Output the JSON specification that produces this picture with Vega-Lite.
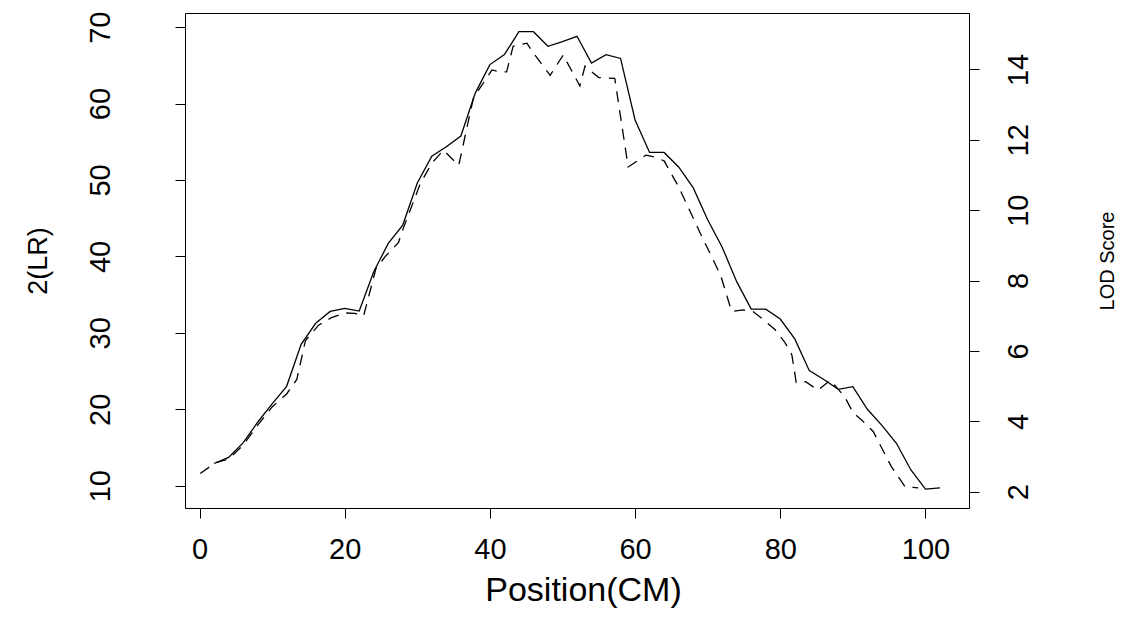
{
  "$schema": "https://vega.github.io/schema/vega-lite/v6.json",
  "width": 784,
  "height": 495,
  "autosize": "none",
  "padding": {"left": 185, "top": 13, "right": 177, "bottom": 121},
  "background": "white",
  "config": {
    "view": {"stroke": "black", "strokeWidth": 1},
    "axis": {
      "grid": false,
      "domain": false,
      "ticks": true,
      "tickColor": "black",
      "tickSize": 10,
      "tickWidth": 1,
      "labelColor": "black",
      "labelFont": "Liberation Sans",
      "labelFontSize": 29,
      "titleFont": "Liberation Sans",
      "titleFontWeight": "normal",
      "titleColor": "black",
      "labelOverlap": false,
      "labelFlush": false
    }
  },
  "datasets": {
    "solid": [
      {"pos": 2, "lr": 12.9}, {"pos": 4, "lr": 13.7}, {"pos": 6, "lr": 15.6}, {"pos": 8, "lr": 18.3},
      {"pos": 10, "lr": 20.7}, {"pos": 12, "lr": 23.0}, {"pos": 14, "lr": 28.5}, {"pos": 16, "lr": 31.25},
      {"pos": 18, "lr": 32.8}, {"pos": 20, "lr": 33.2}, {"pos": 22, "lr": 32.85}, {"pos": 24, "lr": 38.0},
      {"pos": 26, "lr": 41.7}, {"pos": 28, "lr": 44.1}, {"pos": 30, "lr": 49.6}, {"pos": 32, "lr": 53.1},
      {"pos": 34, "lr": 54.35}, {"pos": 36, "lr": 55.75}, {"pos": 38, "lr": 61.4}, {"pos": 40, "lr": 65.1},
      {"pos": 42, "lr": 66.4}, {"pos": 44, "lr": 69.4}, {"pos": 46, "lr": 69.4}, {"pos": 48, "lr": 67.5},
      {"pos": 50, "lr": 68.1}, {"pos": 52, "lr": 68.8}, {"pos": 54, "lr": 65.3}, {"pos": 56, "lr": 66.4},
      {"pos": 58, "lr": 65.9}, {"pos": 60, "lr": 57.85}, {"pos": 62, "lr": 53.6}, {"pos": 64, "lr": 53.6},
      {"pos": 66, "lr": 51.7}, {"pos": 68, "lr": 49.0}, {"pos": 70, "lr": 44.8}, {"pos": 72, "lr": 41.2},
      {"pos": 74, "lr": 36.7}, {"pos": 76, "lr": 33.1}, {"pos": 78, "lr": 33.1}, {"pos": 80, "lr": 31.8},
      {"pos": 82, "lr": 29.2}, {"pos": 84, "lr": 25.05}, {"pos": 86, "lr": 23.9}, {"pos": 88, "lr": 22.6},
      {"pos": 90, "lr": 22.95}, {"pos": 92, "lr": 20.0}, {"pos": 94, "lr": 17.9}, {"pos": 96, "lr": 15.55},
      {"pos": 98, "lr": 12.05}, {"pos": 100, "lr": 9.55}, {"pos": 102, "lr": 9.7}
    ],
    "dashed": [
      {"pos": 0.1, "lr": 11.6}, {"pos": 2.2, "lr": 13.0}, {"pos": 4.0, "lr": 13.5}, {"pos": 6.0, "lr": 15.3},
      {"pos": 8.0, "lr": 17.9}, {"pos": 10.0, "lr": 20.3}, {"pos": 12.0, "lr": 22.0}, {"pos": 13.4, "lr": 23.9},
      {"pos": 14.6, "lr": 29.0}, {"pos": 16.4, "lr": 31.0}, {"pos": 18.2, "lr": 32.0}, {"pos": 20.1, "lr": 32.6},
      {"pos": 21.4, "lr": 32.55}, {"pos": 22.6, "lr": 32.2}, {"pos": 24.3, "lr": 38.4}, {"pos": 25.6, "lr": 40.0},
      {"pos": 27.4, "lr": 41.8}, {"pos": 28.0, "lr": 43.5}, {"pos": 30.4, "lr": 49.5}, {"pos": 32.0, "lr": 52.2},
      {"pos": 33.6, "lr": 53.9}, {"pos": 35.7, "lr": 51.9}, {"pos": 37.7, "lr": 60.6}, {"pos": 38.6, "lr": 62.0},
      {"pos": 40.3, "lr": 64.4}, {"pos": 41.4, "lr": 64.15}, {"pos": 42.3, "lr": 64.15}, {"pos": 43.2, "lr": 67.5},
      {"pos": 45.1, "lr": 67.9}, {"pos": 46.0, "lr": 66.6}, {"pos": 48.3, "lr": 63.7}, {"pos": 50.1, "lr": 66.35},
      {"pos": 52.4, "lr": 62.3}, {"pos": 53.1, "lr": 64.9}, {"pos": 55.0, "lr": 63.4}, {"pos": 57.2, "lr": 63.3},
      {"pos": 59.05, "lr": 51.7}, {"pos": 61.5, "lr": 53.25}, {"pos": 62.7, "lr": 53.0}, {"pos": 64.0, "lr": 52.5},
      {"pos": 66.0, "lr": 49.1}, {"pos": 68.9, "lr": 43.2}, {"pos": 71.8, "lr": 37.5}, {"pos": 73.3, "lr": 32.8},
      {"pos": 74.9, "lr": 33.0}, {"pos": 76.3, "lr": 32.75}, {"pos": 77.6, "lr": 31.8}, {"pos": 79.3, "lr": 30.4},
      {"pos": 80.6, "lr": 28.8}, {"pos": 81.6, "lr": 27.1}, {"pos": 82.2, "lr": 23.5}, {"pos": 83.5, "lr": 23.6},
      {"pos": 85.2, "lr": 22.5}, {"pos": 86.9, "lr": 23.8}, {"pos": 88.9, "lr": 21.6}, {"pos": 90.0, "lr": 19.6},
      {"pos": 91.2, "lr": 18.6}, {"pos": 92.8, "lr": 17.1}, {"pos": 95.3, "lr": 12.5}, {"pos": 97.2, "lr": 9.85},
      {"pos": 99.0, "lr": 9.7}
    ]
  },
  "resolve": {"axis": {"y": "independent"}},
  "layer": [
    {
      "data": {"name": "solid"},
      "mark": {"type": "line", "color": "black", "strokeWidth": 1.3},
      "encoding": {
        "x": {
          "field": "pos", "type": "quantitative",
          "scale": {"domain": [-2, 106], "nice": false, "zero": false},
          "axis": {
            "values": [0, 20, 40, 60, 80, 100],
            "labelPadding": 17,
            "labelBaseline": "top",
            "title": "Position(CM)",
            "titleFontSize": 34,
            "titleX": 398,
            "titleY": 82,
            "titleBaseline": "middle",
            "titleAlign": "center"
          }
        },
        "y": {
          "field": "lr", "type": "quantitative",
          "scale": {"domain": [7.08, 71.85], "nice": false, "zero": false},
          "axis": {
            "orient": "left",
            "values": [10, 20, 30, 40, 50, 60, 70],
            "labelAngle": 270,
            "labelAlign": "center",
            "labelBaseline": "bottom",
            "labelPadding": 60,
            "title": "2(LR)",
            "titleFontSize": 27,
            "titleAngle": 270,
            "titleX": -147,
            "titleY": 247.5,
            "titleBaseline": "middle",
            "titleAlign": "center"
          }
        }
      }
    },
    {
      "data": {"name": "dashed"},
      "mark": {"type": "line", "color": "black", "strokeWidth": 1.3, "strokeDash": [11, 8]},
      "encoding": {
        "x": {"field": "pos", "type": "quantitative"},
        "y": {
          "field": "lr", "type": "quantitative",
          "axis": {
            "orient": "right",
            "values": [9.2103, 18.4207, 27.631, 36.8414, 46.0517, 55.262, 64.4724],
            "labelExpr": "format(round(datum.value / 4.60517), 'd')",
            "labelAngle": 270,
            "labelAlign": "center",
            "labelBaseline": "top",
            "labelPadding": 25,
            "title": "LOD Score",
            "titleFontSize": 20,
            "titleAngle": 270,
            "titleX": 138,
            "titleY": 247.5,
            "titleBaseline": "middle",
            "titleAlign": "center"
          }
        }
      }
    }
  ]
}
